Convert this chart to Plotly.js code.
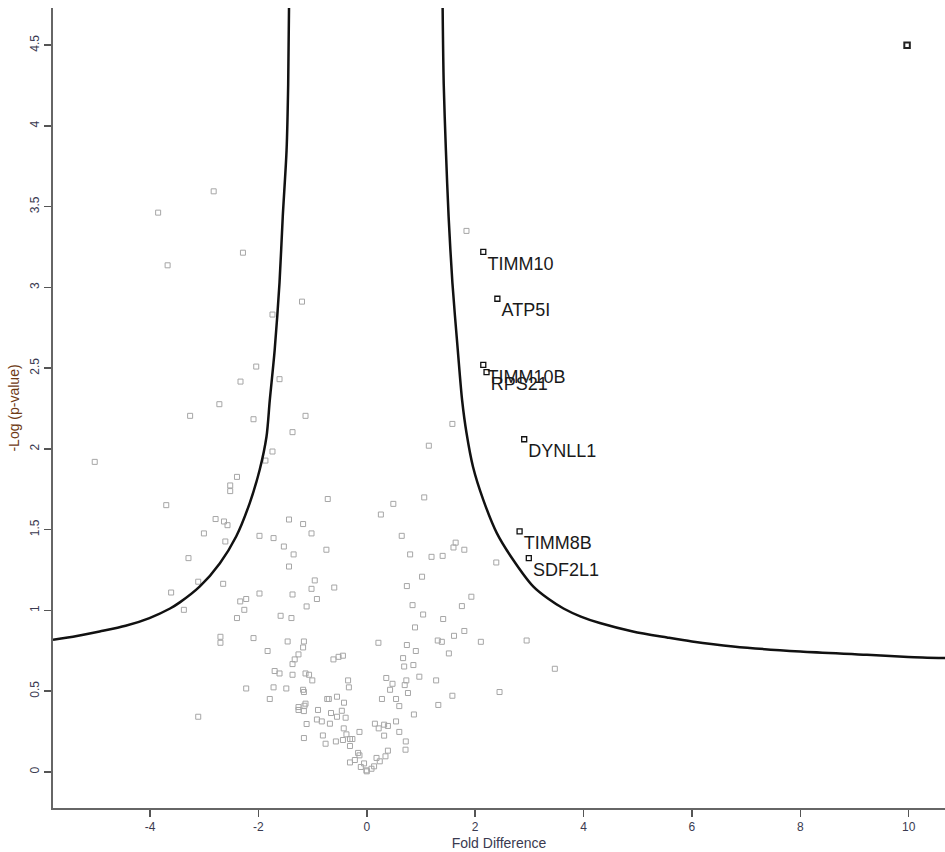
<!DOCTYPE html>
<html>
<head>
<meta charset="utf-8">
<script src="https://cdn.plot.ly/plotly-3.0.1.min.js"></script>
<style>html,body{margin:0;padding:0;background:#fff;}#chart{width:945px;height:852px;}</style>
</head>
<body>
<div id="chart"></div>
<script>
// Gray (non-significant and other) proteins: fold difference and -log(p)
var grayX = [
 -2.825,-3.85,-2.285,-3.675,-1.195,-1.74,-2.04,-1.61,-2.33,-2.72,-3.26,-2.09,-1.13,-1.37,-1.74,
 -5.02,-1.87,-2.395,-2.52,-2.52,-3.70,-2.79,-2.635,-2.57,-3.005,-2.61,-3.29,-3.11,-2.65,-3.61,
 -3.375,-2.225,-2.335,-2.26,-2.395,-1.98,-1.435,-1.175,-1.02,-1.98,-1.72,-1.53,-1.35,-1.435,-0.96,
 -1.02,-1.37,-0.92,-1.11,-1.59,-1.39,-2.70,-2.70,-2.09,-1.46,-1.16,-1.175,-1.83,-1.26,-1.33,
 -1.37,-1.70,-1.61,-1.37,-1.13,-1.065,-1.005,-2.225,-1.72,-1.485,-1.175,-1.16,-1.79,-1.26,-1.13,
 -1.15,-1.26,-1.16,-0.90,-0.92,-1.11,-3.11,-1.16,-0.72,-0.745,-0.60,
 -0.615,-0.52,-0.44,-0.345,-0.33,-0.73,-0.70,-0.55,-0.42,-0.46,-0.83,-0.66,-0.55,-0.39,-0.68,
 -0.425,-0.375,-0.135,-0.81,-0.76,-0.57,-0.44,-0.31,-0.265,-0.31,-0.16,-0.135,-0.22,-0.31,-0.05,
 -0.11,-0.006,
 0.89,1.80,1.61,0.215,0.74,1.31,1.385,2.105,2.95,3.47,0.905,1.515,0.67,0.69,0.86,
 0.36,0.475,0.43,0.73,0.70,0.97,0.76,1.28,2.45,1.58,0.28,0.54,0.60,1.32,0.87,
 0.54,0.15,0.22,0.32,0.39,0.60,0.32,0.72,0.715,0.39,0.345,0.18,0.24,0.135,0.087,0.0,
 0.49,0.26,0.645,0.80,1.195,1.40,1.60,1.64,1.80,2.39,1.02,0.74,0.845,1.04,1.41,
 1.755,1.93,1.06,1.145,1.58,1.84
];
var grayY = [
 3.595,3.463,3.215,3.137,2.912,2.832,2.51,2.432,2.417,2.277,2.205,2.184,2.205,2.104,1.984,
 1.92,1.928,1.827,1.774,1.739,1.652,1.566,1.551,1.528,1.477,1.427,1.324,1.178,1.165,1.111,
 1.004,1.071,1.056,1.004,0.953,1.105,1.563,1.535,1.477,1.462,1.448,1.396,1.347,1.272,1.186,
 1.134,1.099,1.071,1.025,0.967,0.953,0.837,0.80,0.829,0.808,0.808,0.771,0.749,0.728,0.697,
 0.668,0.625,0.610,0.602,0.610,0.602,0.567,0.517,0.524,0.517,0.509,0.495,0.452,0.402,0.423,
 0.41,0.384,0.377,0.384,0.325,0.297,0.342,0.210,1.69,1.376,1.142,
 0.697,0.713,0.720,0.567,0.524,0.452,0.452,0.466,0.429,0.379,0.313,0.365,0.342,0.336,0.299,
 0.270,0.233,0.248,0.226,0.175,0.189,0.198,0.204,0.204,0.161,0.118,0.103,0.074,0.059,0.053,
 0.031,0.010,
 0.895,0.873,0.843,0.800,0.786,0.814,0.806,0.806,0.814,0.639,0.749,0.734,0.705,0.653,0.662,
 0.582,0.546,0.509,0.567,0.538,0.590,0.489,0.567,0.495,0.472,0.452,0.452,0.408,0.415,0.356,
 0.313,0.299,0.270,0.293,0.285,0.248,0.225,0.189,0.138,0.132,0.097,0.087,0.066,0.035,0.020,0.004,
 1.66,1.594,1.462,1.347,1.332,1.338,1.39,1.42,1.376,1.297,1.209,1.151,1.033,0.975,0.947,
 1.027,1.085,1.70,2.02,2.155,3.35
];

// Highlighted (significant) proteins
var hitNames = ['TIMM10','ATP5I','TIMM10B','RPS21','DYNLL1','TIMM8B','SDF2L1'];
var hitX = [2.15, 2.41, 2.15, 2.21, 2.905, 2.82, 2.99];
var hitY = [3.22, 2.93, 2.52, 2.475, 2.06, 1.49, 1.324];

// Outlier point (unlabelled)
var outlierX = [9.97];
var outlierY = [4.50];

// Significance threshold curve
var curveLeftX = [-5.79,-5.35,-4.93,-4.45,-4.01,-3.63,-3.45,-3.08,-2.71,-2.41,-2.16,-1.976,-1.85,-1.79,-1.70,-1.61,-1.55,-1.48,-1.45,-1.435];
var curveLeftY = [0.819,0.842,0.870,0.905,0.953,1.012,1.050,1.149,1.293,1.458,1.665,1.871,2.077,2.30,2.61,3.03,3.44,3.85,4.26,4.73];
var curveRightX = [1.40,1.42,1.46,1.51,1.58,1.68,1.76,1.84,1.96,2.15,2.40,2.70,3.07,3.35,3.63,3.95,4.30,4.91,5.54,6.00,6.76,8.00,9.23,9.99,10.68];
var curveRightY = [4.73,4.26,3.85,3.44,3.03,2.61,2.30,2.10,1.89,1.685,1.479,1.314,1.149,1.072,1.012,0.962,0.922,0.870,0.833,0.808,0.777,0.746,0.726,0.712,0.705];

var xTicks = [-4,-2,0,2,4,6,8,10];
var yTicks = [0,0.5,1,1.5,2,2.5,3,3.5,4,4.5];
var yTickText = ['0','0.5','1','1.5','2','2.5','3','3.5','4','4.5'];

var FONT = 'Liberation Sans, Arial, sans-serif';

var traces = [
  {x: grayX, y: grayY, type: 'scatter', mode: 'markers',
   marker: {symbol: 'square-open', size: 5, color: '#a6a6a6', line: {width: 1, color: '#a6a6a6'}},
   hoverinfo: 'x+y'},
  {x: curveLeftX, y: curveLeftY, type: 'scatter', mode: 'lines',
   line: {color: '#111', width: 2.5, shape: 'spline', smoothing: 0.8}, hoverinfo: 'skip'},
  {x: curveRightX, y: curveRightY, type: 'scatter', mode: 'lines',
   line: {color: '#111', width: 2.5, shape: 'spline', smoothing: 0.8}, hoverinfo: 'skip'},
  {x: hitX, y: hitY, text: hitNames, type: 'scatter', mode: 'markers+text',
   textposition: 'bottom right',
   textfont: {family: FONT, size: 18, color: '#1a1a1a'},
   marker: {symbol: 'square-open', size: 5, color: '#111', line: {width: 1.3, color: '#111'}}},
  {x: outlierX, y: outlierY, type: 'scatter', mode: 'markers',
   marker: {symbol: 'square-open', size: 5.5, color: '#222', line: {width: 2, color: '#222'}}}
];

var layout = {
  width: 945, height: 852,
  margin: {l: 53, r: 0, t: 8, b: 44, pad: 0},
  paper_bgcolor: '#fff', plot_bgcolor: '#fff',
  showlegend: false,
  font: {family: FONT, size: 12, color: '#333'},
  xaxis: {
    range: [-5.79, 10.67], showgrid: false, zeroline: false,
    showline: true, linecolor: '#666', linewidth: 2,
    ticks: 'outside', ticklen: 7, tickwidth: 1.5, tickcolor: '#555',
    tickvals: xTicks, ticktext: xTicks.map(String),
    tickfont: {family: FONT, size: 12, color: '#3a3a50'},
    title: {text: 'Fold Difference', font: {family: FONT, size: 14, color: '#3a3a50'}, standoff: 5}
  },
  yaxis: {
    range: [-0.223, 4.73], showgrid: false, zeroline: false,
    showline: true, linecolor: '#666', linewidth: 2,
    ticks: 'outside', ticklen: 7, tickwidth: 1.5, tickcolor: '#555',
    tickvals: yTicks, ticktext: yTickText, tickangle: -90,
    tickfont: {family: FONT, size: 12, color: '#3a3a50'},
    title: {text: '-Log (p-value)', font: {family: FONT, size: 14, color: '#6e3a14'}, standoff: 5}
  }
};

Plotly.newPlot('chart', traces, layout, {displayModeBar: false, staticPlot: true});
</script>
</body>
</html>
